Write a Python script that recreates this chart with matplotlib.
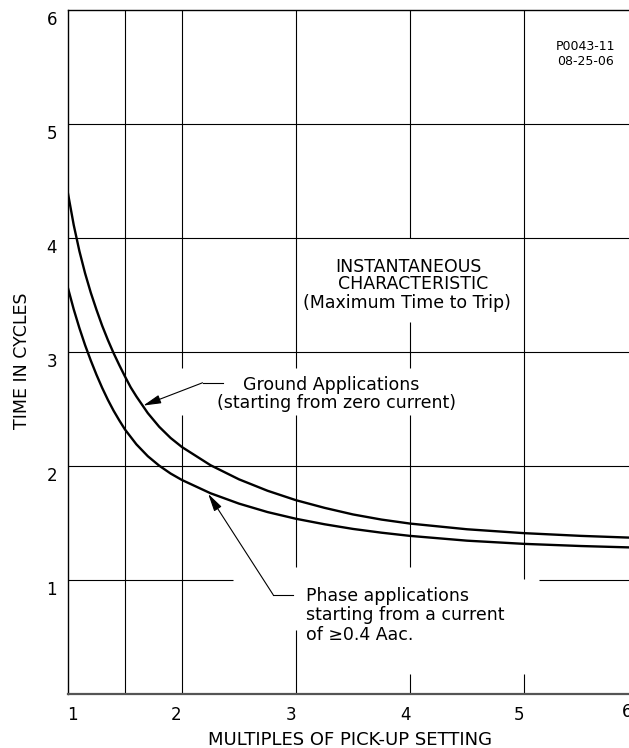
import matplotlib
matplotlib.use("Agg")
import matplotlib.pyplot as plt
from matplotlib.transforms import ScaledTranslation

# valores (multiplos del pick-up, tiempo en ciclos)
ground_x = [1.00, 1.05, 1.10, 1.15, 1.20, 1.25, 1.30, 1.35, 1.40, 1.45, 1.50, 1.55,
            1.60, 1.70, 1.80, 1.90, 2.00, 2.25, 2.50, 2.75, 3.00, 3.25, 3.50, 3.75,
            4.00, 4.50, 5.00, 5.50, 5.92]
ground_y = [4.39, 4.115, 3.885, 3.69, 3.52, 3.37, 3.23, 3.105, 2.99, 2.885, 2.785, 2.69,
            2.61, 2.464, 2.344, 2.246, 2.166, 2.007, 1.883, 1.783, 1.70, 1.633, 1.575, 1.53,
            1.495, 1.445, 1.411, 1.387, 1.372]

phase_x = [1.00, 1.05, 1.10, 1.15, 1.20, 1.25, 1.30, 1.35, 1.40, 1.45, 1.50,
           1.60, 1.70, 1.80, 1.90, 2.00, 2.25, 2.50, 2.75, 3.00, 3.25, 3.50, 3.75,
           4.00, 4.50, 5.00, 5.50, 5.92]
phase_y = [3.56, 3.375, 3.21, 3.06, 2.925, 2.80, 2.685, 2.58, 2.485, 2.40, 2.32,
           2.19, 2.086, 2.003, 1.934, 1.877, 1.761, 1.670, 1.596, 1.537, 1.489, 1.448, 1.415,
           1.387, 1.345, 1.317, 1.298, 1.286]

x_ticks = [1, 2, 3, 4, 5]
y_ticks = [1, 2, 3, 4, 5, 6]

plt.rcParams['font.family'] = ['DejaVu Sans']

W, H = 629, 748
fig = plt.figure(figsize=(W / 100, H / 100), dpi=100)
ax = fig.add_axes([68 / W, 54 / H, 561 / W, 684 / H])

x_max = 1 + 561 / 114
ax.set_xlim(1, x_max)
ax.set_ylim(0, 6)

# cuadricula con huecos alrededor de los textos (como en el dibujo CAD)
grid_v = [
    (1.5, 0, 6),
    (2, 0, 2.45), (2, 2.86, 6),
    (3, 0, 0.56), (3, 1.11, 2.45), (3, 2.86, 6),
    (4, 0, 0.175), (4, 1.11, 2.45), (4, 2.86, 3.26), (4, 4.0, 6),
    (5, 0, 0.175), (5, 1.01, 6),
]
grid_h = [
    (1, 1, 2.45), (1, 5.13, x_max),
    (2, 1, x_max), (3, 1, x_max), (4, 1, x_max), (5, 1, x_max),
]
for x, y0, y1 in grid_v:
    ax.vlines(x, y0, y1, color='black', lw=0.8)
for y, x0, x1 in grid_h:
    ax.hlines(y, x0, x1, color='black', lw=0.8)

ax.plot(ground_x, ground_y, color='black', lw=1.7, solid_joinstyle='round')
ax.plot(phase_x, phase_y, color='black', lw=1.7, solid_joinstyle='round')

# ejes
ax.spines['right'].set_visible(False)
ax.spines['left'].set_linewidth(1.0)
ax.spines['top'].set_linewidth(1.0)
ax.spines['bottom'].set_linewidth(1.6)
ax.spines['bottom'].set_color('#555555')

ax.set_xticks(x_ticks)
ax.set_yticks(y_ticks)
ax.set_xticklabels([str(v) for v in x_ticks])
ax.set_yticklabels([str(v) for v in y_ticks])
ax.tick_params(axis='both', length=0, labelsize=12)
ax.tick_params(axis='x', pad=9)
ax.tick_params(axis='y', pad=8)

x_off = [4, -6, -5, -4, -5]
for lab, dx in zip(ax.get_xticklabels(), x_off):
    lab.set_transform(lab.get_transform() + ScaledTranslation(dx / 100, 0, fig.dpi_scale_trans))
for lab in ax.get_yticklabels():
    lab.set_transform(lab.get_transform() + ScaledTranslation(0, -8 / 100, fig.dpi_scale_trans))

# el "6" queda cortado en el borde derecho, como en el original
ax.text(6, -0.026, "6", ha='center', va='center', fontsize=12, clip_on=False,
        transform=ax.get_xaxis_transform() + ScaledTranslation(-11 / 100, 0, fig.dpi_scale_trans))

# etiquetas de los ejes
fig.text(350 / W, 1 - 740 / H, "MULTIPLES OF PICK-UP SETTING", ha='center', va='center', fontsize=13)
fig.text(22 / W, 1 - 361 / H, "TIME IN CYCLES", ha='center', va='center', rotation=90, fontsize=12.5)

# textos
ax.text(5.54, 5.68, "P0043-11", ha='center', va='center', fontsize=9)
ax.text(5.54, 5.55, "08-25-06", ha='center', va='center', fontsize=9)

fs = 12.5
ax.text(3.99, 3.75, "INSTANTANEOUS", ha='center', va='center', fontsize=fs)
ax.text(4.03, 3.60, "CHARACTERISTIC", ha='center', va='center', fontsize=fs)
ax.text(3.97, 3.43, "(Maximum Time to Trip)", ha='center', va='center', fontsize=fs)

ax.text(2.535, 2.71, "Ground Applications", ha='left', va='center', fontsize=fs)
ax.text(2.307, 2.55, "(starting from zero current)", ha='left', va='center', fontsize=fs)

ax.text(3.09, 0.86, "Phase applications", ha='left', va='center', fontsize=fs)
ax.text(3.09, 0.69, "starting from a current", ha='left', va='center', fontsize=fs)
ax.text(3.09, 0.52, "of \u22650.4 Aac.", ha='left', va='center', fontsize=fs)

# lineas de referencia con flecha
arrow = dict(arrowstyle='-|>,head_length=0.9,head_width=0.22', color='black', lw=0.8,
             shrinkA=0, shrinkB=0, mutation_scale=12)
ax.plot([2.18, 2.36], [2.73, 2.73], color='black', lw=0.8)
ax.annotate('', xy=(1.66, 2.53), xytext=(2.18, 2.73), arrowprops=arrow)
ax.plot([2.80, 2.97], [0.87, 0.87], color='black', lw=0.8)
ax.annotate('', xy=(2.23, 1.755), xytext=(2.80, 0.87), arrowprops=arrow)

fig.savefig("out.png", dpi=100)
